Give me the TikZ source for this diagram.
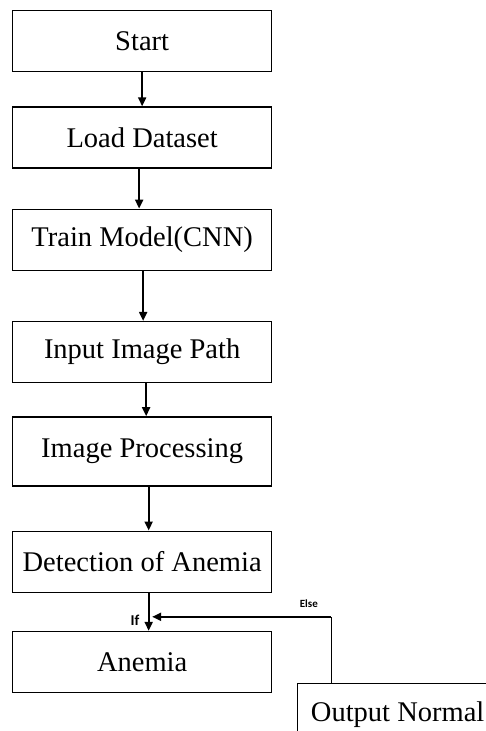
\documentclass[tikz,border=0pt]{standalone}
\usepackage{fontspec}
\setmainfont{Liberation Serif}
\newfontfamily\lblfont{Carlito}
\usetikzlibrary{arrows.meta,positioning,calc}

\begin{document}
\begin{tikzpicture}[>={Triangle[length=9pt,width=8pt]}, font=\fontsize{28.5}{33}\selectfont,
    box/.style={rectangle, draw, line width=1.3pt, minimum width=259pt, minimum height=61pt, inner sep=2pt},
    arr/.style={->, line width=2pt},
    lbl/.style={font=\lblfont\bfseries\fontsize{11}{13}\selectfont, inner sep=1pt}]
    \useasboundingbox (0,0) rectangle (486pt,-731pt);
    \node[box, anchor=north west] (start) at (12pt,-10pt) {Start};
    \node[box, below=34pt of start] (load) {Load Dataset};
    \node[box, below=40pt of load] (train) {Train Model(CNN)};
    \node[box, below=50pt of train] (input) {Input Image Path};
    \node[box, below=33pt of input, minimum height=69pt] (proc) {Image Processing};
    \node[box, below=44pt of proc] (detect) {Detection of Anemia};
    \node[box, below=38pt of detect] (anemia) {Anemia};
    \node[box, anchor=north west, minimum width=200pt] (normal) at (297pt,-683pt) {Output Normal};
    \draw[arr] (start) -- (load);
    \draw[arr] ([xshift=-3pt]load.south) -- ([xshift=-3pt]train.north);
    \draw[arr] ([xshift=1pt]train.south) -- ([xshift=1pt]input.north);
    \draw[arr] ([xshift=4pt]input.south) -- ([xshift=4pt]proc.north);
    \draw[arr] ([xshift=6.5pt]proc.south) -- ([xshift=6.5pt]detect.north);
    \draw[arr] ([xshift=6.5pt]detect.south) -- ([xshift=6.5pt]anemia.north);
    % else branch back into the if arrow
    \coordinate (join) at ([xshift=6.5pt,yshift=14pt]anemia.north);
    \path ([xshift=34pt]normal.north west) coordinate (nx);
    \coordinate (elbow) at (nx |- join);
    \draw[line width=1pt] (nx) -- (elbow);
    \draw[arr] (elbow) -- ([xshift=3.5pt]join);
    \node[lbl, above left=8pt and 12pt of elbow] (elselbl) {Else};
    \node[lbl, font=\lblfont\bfseries\fontsize{15}{17}\selectfont, left=8pt of join, yshift=-3pt] (iflbl) {If};
\end{tikzpicture}
\end{document}
